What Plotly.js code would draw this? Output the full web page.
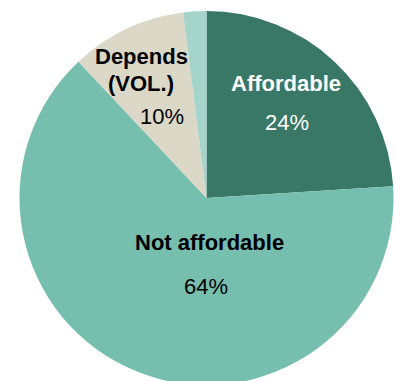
<!DOCTYPE html>
<html><head><meta charset="utf-8">
<script src="https://cdn.plot.ly/plotly-3.0.1.min.js"></script>
<style>html,body{margin:0;padding:0;overflow:hidden;background:#fff;width:395px;height:381px}</style>
</head><body>
<div id="chart" style="width:395px;height:400px"></div>
<script>
const categories = ["Affordable", "Not affordable", "Depends (VOL.)", "Don't know"];
const values = [24, 64, 10, 2];
const colors = ["#397767", "#76beae", "#dcd8c8", "#a5d4cb"];
const labelLines = [["Affordable"], ["Not affordable"], ["Depends", "(VOL.)"], []];
const pctLabels = ["24%", "64%", "10%", ""];

const W = 395, H = 400;
const px = (x) => x / W;
const py = (y) => (H - y) / H;
const FONT = "Liberation Sans, Arial, sans-serif";

const textColors = ["#ffffff", "#000000", "#000000", "#000000"];
const namePos = [[[286, 83]], [[210, 242]], [[141.5, 56], [141, 84]], []];
const pctPos = [[287, 122.5], [206, 286], [162, 116], null];

const annotations = [];
categories.forEach((c, i) => {
  labelLines[i].forEach((line, j) => {
    const p = namePos[i][j];
    annotations.push({text: "<b>" + line + "</b>", x: px(p[0]), y: py(p[1]), xref: "paper", yref: "paper",
      xanchor: "center", yanchor: "middle", showarrow: false,
      font: {family: FONT, size: 22, color: textColors[i]}});
  });
  if (pctPos[i]) {
    annotations.push({text: pctLabels[i], x: px(pctPos[i][0]), y: py(pctPos[i][1]), xref: "paper", yref: "paper",
      xanchor: "center", yanchor: "middle", showarrow: false,
      font: {family: FONT, size: 22, color: textColors[i]}});
  }
});

const cx = 206.5, cy = 198, r = 187;
Plotly.newPlot("chart", [{
  type: "pie",
  labels: categories,
  values: values,
  sort: false,
  direction: "clockwise",
  rotation: 0,
  marker: {colors: colors, line: {width: 0}},
  textinfo: "none",
  hoverinfo: "none",
  domain: {x: [(cx - r) / W, (cx + r) / W], y: [(H - cy - r) / H, (H - cy + r) / H]}
}], {
  width: W, height: H,
  margin: {l: 0, r: 0, t: 0, b: 0},
  showlegend: false,
  paper_bgcolor: "#ffffff",
  annotations: annotations
}, {displayModeBar: false, staticPlot: true});
</script>
</body></html>
